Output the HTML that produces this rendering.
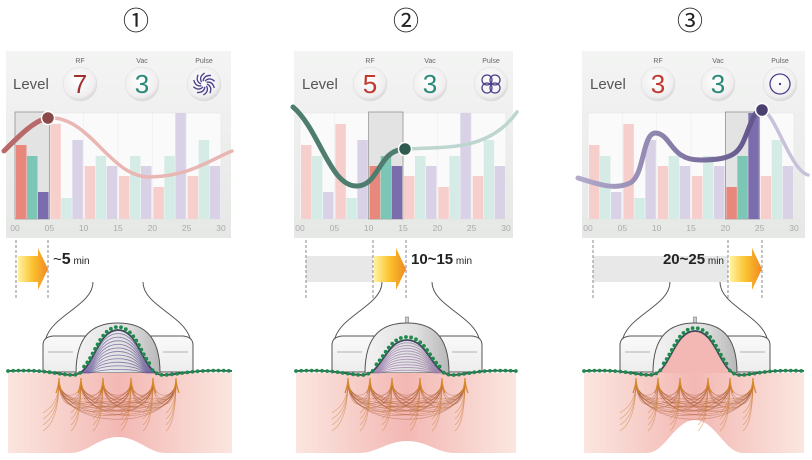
<!DOCTYPE html>
<html><head><meta charset="utf-8">
<style>
html,body{margin:0;padding:0;background:#fff;}
body{width:812px;height:460px;overflow:hidden;position:relative;font-family:"Liberation Sans",sans-serif;}
svg{position:absolute;left:0;top:0;}
</style></head><body>
<svg id="s" width="812" height="460" viewBox="0 0 812 460" xmlns="http://www.w3.org/2000/svg">
<defs>
<linearGradient id="pan" x1="0" y1="0" x2="0" y2="1"><stop offset="0" stop-color="#f3f4f3"/><stop offset="1" stop-color="#e6e8e6"/></linearGradient>
<linearGradient id="arr" x1="0" y1="0" x2="1" y2="0"><stop offset="0" stop-color="#fff3a0"/><stop offset="0.5" stop-color="#fbc02d"/><stop offset="1" stop-color="#f08a24"/></linearGradient>
<linearGradient id="skin" x1="0" y1="0" x2="1" y2="0"><stop offset="0" stop-color="#fbe6df"/><stop offset="0.5" stop-color="#f3b8b4"/><stop offset="1" stop-color="#fbe6df"/></linearGradient>
<linearGradient id="dome" x1="0" y1="0" x2="1" y2="0"><stop offset="0" stop-color="#f2f2f2"/><stop offset="0.6" stop-color="#e0e0e0"/><stop offset="1" stop-color="#b8b8b8"/></linearGradient>
<linearGradient id="body" x1="0" y1="0" x2="0" y2="1"><stop offset="0" stop-color="#fafafa"/><stop offset="1" stop-color="#ededed"/></linearGradient>
<linearGradient id="pcurve" x1="578" y1="0" x2="762" y2="0" gradientUnits="userSpaceOnUse"><stop offset="0" stop-color="#b3aacb"/><stop offset="1" stop-color="#5e5288"/></linearGradient>
<radialGradient id="btn" cx="0.45" cy="0.4" r="0.6"><stop offset="0" stop-color="#fff"/><stop offset="0.8" stop-color="#f0eeee"/><stop offset="1" stop-color="#d8d6d6"/></radialGradient>
</defs>
<g id="g"></g>
<g font-family="Liberation Sans, sans-serif">
<text x="136" y="30" font-size="26" text-anchor="middle" fill="#222" font-family="Noto Sans CJK JP, sans-serif">①</text>
<text x="406" y="30" font-size="26" text-anchor="middle" fill="#222" font-family="Noto Sans CJK JP, sans-serif">②</text>
<text x="690" y="30" font-size="26" text-anchor="middle" fill="#222" font-family="Noto Sans CJK JP, sans-serif">③</text>

<text x="13" y="89" font-size="15" fill="#555">Level</text>
<text x="80" y="63" font-size="7" fill="#666" text-anchor="middle">RF</text>
<text x="142" y="63" font-size="7" fill="#666" text-anchor="middle">Vac</text>
<text x="204" y="63" font-size="7" fill="#666" text-anchor="middle">Pulse</text>
<text x="302" y="89" font-size="15" fill="#555">Level</text>
<text x="370" y="63" font-size="7" fill="#666" text-anchor="middle">RF</text>
<text x="430" y="63" font-size="7" fill="#666" text-anchor="middle">Vac</text>
<text x="491" y="63" font-size="7" fill="#666" text-anchor="middle">Pulse</text>
<text x="590" y="89" font-size="15" fill="#555">Level</text>
<text x="658" y="63" font-size="7" fill="#666" text-anchor="middle">RF</text>
<text x="718" y="63" font-size="7" fill="#666" text-anchor="middle">Vac</text>
<text x="780" y="63" font-size="7" fill="#666" text-anchor="middle">Pulse</text>

<text x="80" y="93" font-size="26" fill="#a03030" text-anchor="middle">7</text>
<text x="142" y="93" font-size="26" fill="#2a8a78" text-anchor="middle">3</text>
<text x="370" y="93" font-size="26" fill="#c03a30" text-anchor="middle">5</text>
<text x="430" y="93" font-size="26" fill="#2a8a78" text-anchor="middle">3</text>
<text x="658" y="93" font-size="26" fill="#c03a30" text-anchor="middle">3</text>
<text x="718" y="93" font-size="26" fill="#2a8a78" text-anchor="middle">3</text>

<text x="53" y="264" font-size="10" fill="#222"><tspan font-size="15">~</tspan><tspan font-size="16" font-weight="bold">5</tspan> min</text>
<text x="411" y="264" font-size="10" fill="#222"><tspan font-size="15" font-weight="bold">10~15</tspan> min</text>
<text x="724" y="264" font-size="10" fill="#222" text-anchor="end"><tspan font-size="15" font-weight="bold">20~25</tspan> min</text>
</g>
</svg>
<script>
const NS="http://www.w3.org/2000/svg",G=document.getElementById('g');
function el(t,a,p){const e=document.createElementNS(NS,t);for(const k in a)e.setAttribute(k,a[k]);(p||G).appendChild(e);return e;}
const panels=[
 {bx:6,bw:225,x0:15,act:0,btn:[80,142,204],
  curve:"M4,151 C20,135 35,120 48,118 C90,115 110,178 150,177 C190,176 210,160 232,151",
  bold:"M4,151 C20,135 35,120 48,118",dot:[48,118],col:"#e9b6b3",bcol:"#b86a6a",dcol:"#8a4848"},
 {bx:294,bw:219,x0:300,act:2,btn:[370,430,491],
  curve:"M293,107 C320,130 330,188 358,186 C380,184 378,150 405,149 C450,147 490,150 517,112",
  bold:"M293,107 C320,130 330,188 358,186 C380,184 378,150 405,149",dot:[405,149],col:"#bdd6cf",bcol:"#4e7d70",dcol:"#2f5a50"},
 {bx:582,bw:223,x0:588,act:4,btn:[658,718,780],
  curve:"M578,178 C600,185 615,190 630,183 C645,175 642,132 656,133 C672,135 670,160 700,160 C740,160 740,150 750,125 C755,112 758,110 762,110 C775,112 790,170 808,175",
  bold:"M578,178 C600,185 615,190 630,183 C645,175 642,132 656,133 C672,135 670,160 700,160 C740,160 740,150 750,125 C755,112 758,110 762,110",dot:[762,110],col:"#c8c1da",bcol:"url(#pcurve)",dcol:"#4a3f6e"}
];
const H=[[145,156,192],[124,198,140],[166,156,166],[176,156,166],[187,156,113],[176,140,166]];
const cols=["#f6cfcc","#d5ece6","#d9d2e6"],colsA=["#e8877b","#7cc6b6","#7b6cae"];
panels.forEach((p,pi)=>{
 el('rect',{x:p.bx,y:51,width:p.bw,height:187,fill:"url(#pan)"});
 const w=206/6;
 el('rect',{x:p.x0,y:113,width:206,height:106,fill:"#fafafa",stroke:"#e4e4e4","stroke-width":0.6});
 for(let i=1;i<6;i++)el('line',{x1:p.x0+i*w,y1:113,x2:p.x0+i*w,y2:219,stroke:"#ececec","stroke-width":0.6});
 el('rect',{x:p.x0+p.act*w,y:112,width:w,height:107,fill:"#e2e3e2",stroke:"#888","stroke-width":0.7});
 for(let s=0;s<6;s++)for(let b=0;b<3;b++){
  const y=H[s][b];const a=(s==p.act);
  el('rect',{x:p.x0+s*w+1+b*11,y:y,width:10.5,height:219-y,fill:a?colsA[b]:cols[b]});
 }
 ["00","05","10","15","20","25","30"].forEach((t,i)=>{const e=el('text',{x:p.x0+i*w,y:231,"font-size":8.5,fill:"#aaa","text-anchor":"middle","font-family":"Liberation Sans"});e.textContent=t;});
 el('path',{d:p.curve,fill:"none",stroke:p.col,"stroke-width":3.5,"stroke-linecap":"round"});
 el('path',{d:p.bold,fill:"none",stroke:p.bcol,"stroke-width":5,"stroke-linecap":"round"});
 el('circle',{cx:p.dot[0],cy:p.dot[1],r:6.5,fill:p.dcol,stroke:"#fff","stroke-width":1.5});
 p.btn.forEach(x=>{el('circle',{cx:x,cy:84,r:17,fill:"url(#btn)",stroke:"#ddd","stroke-width":0.5});});
});
(function(){const cx=204,cy=84;for(let i=0;i<10;i++){const a=i*Math.PI/5;el('path',{d:`M${cx+3*Math.cos(a)},${cy+3*Math.sin(a)} Q${cx+9*Math.cos(a+0.3)},${cy+9*Math.sin(a+0.3)} ${cx+11*Math.cos(a+1)},${cy+11*Math.sin(a+1)}`,fill:"none",stroke:"#4a3f8a","stroke-width":1.3});}
 [[-4,-4],[4,-4],[-4,4],[4,4]].forEach(d=>el('circle',{cx:491+d[0],cy:84+d[1],r:5,fill:"none",stroke:"#4a3f8a","stroke-width":1.3}));
 el('circle',{cx:780,cy:84,r:10,fill:"none",stroke:"#4a3f8a","stroke-width":1.3});el('circle',{cx:780,cy:84,r:1.2,fill:"#4a3f8a"});})();
function dash(x){el('line',{x1:x,y1:240,x2:x,y2:300,stroke:"#888","stroke-width":1,"stroke-dasharray":"3,2"});}
function arrow(x1,x2){el('path',{d:`M${x1},256 L${x2-10},256 L${x2-10},248 L${x2},269 L${x2-10},290 L${x2-10},282 L${x1},282 Z`,fill:"url(#arr)"});}
dash(16);dash(48);arrow(18,48);
el('rect',{x:306,y:256,width:67,height:26,fill:"#e8e8e8"});dash(306);dash(373);dash(406);arrow(374,406);
el('rect',{x:593,y:256,width:135,height:26,fill:"#e8e8e8"});dash(593);dash(728);dash(762);arrow(730,762);
const dev=[{cx:118,sx:8,ex:232,bulge:437,skinUp:false},{cx:407,sx:296,ex:516,bulge:441,skinUp:false},{cx:695,sx:584,ex:804,bulge:420,skinUp:true}];
dev.forEach((d,di)=>{
 const c=d.cx,T=373;
 el('path',{d:`M${c-25},282 C${c-25},305 ${c-65},315 ${c-72},338`,fill:"none",stroke:"#555","stroke-width":1});
 el('path',{d:`M${c+25},282 C${c+25},305 ${c+65},315 ${c+72},338`,fill:"none",stroke:"#555","stroke-width":1});
 el('path',{d:`M${c-75},372 L${c-75},345 Q${c-75},337 ${c-65},336 L${c+65},336 Q${c+75},337 ${c+75},345 L${c+75},372 Z`,fill:"url(#body)",stroke:"#555","stroke-width":1});
 el('line',{x1:c-70,y1:352,x2:c-45,y2:352,stroke:"#999","stroke-width":0.8});
 el('line',{x1:c+45,y1:352,x2:c+70,y2:352,stroke:"#999","stroke-width":0.8});
 if(di>0)el('rect',{x:c-1.5,y:317,width:3,height:7,fill:"#ccc",stroke:"#777","stroke-width":0.6});
 el('path',{d:`M${c-42},${T} C${c-42},335 ${c-25},323 ${c},323 C${c+25},323 ${c+42},335 ${c+42},${T} Z`,fill:"url(#dome)",stroke:"#555","stroke-width":1});
 const b=d.bulge;
 el('path',{d:`M${d.sx},${T} L${d.ex},${T} L${d.ex},453 L${c+48},453 C${c+30},453 ${c+20},${b} ${c},${b} C${c-20},${b} ${c-30},453 ${c-48},453 L${d.sx},453 Z`,fill:"url(#skin)"});
 const top=[330,340,331][di];
 if(d.skinUp){el('path',{d:`M${c-40},${T} C${c-25},${T} ${c-22},${top} ${c},${top} C${c+22},${top} ${c+25},${T} ${c+40},${T} Z`,fill:"#f3b8b4"});}
 else{for(let k=0;k<12;k++){const h=top+k*(T-top)/12;el('path',{d:`M${c-40+k},${T} C${c-25},${T} ${c-22},${h} ${c},${h} C${c+22},${h} ${c+25},${T} ${c+40-k},${T}`,fill:"none",stroke:di==0?"#6a5a9a":"#9a7aa8","stroke-width":0.9,opacity:0.7});}}
 const sp=`M${d.sx},371 C${d.sx+40},369 ${c-60},375 ${c-45},375 C${c-25},375 ${c-22},${top} ${c},${top} C${c+22},${top} ${c+25},375 ${c+45},375 C${c+60},375 ${d.ex-40},369 ${d.ex},371`;
 el('path',{d:sp,fill:"none",stroke:"#3c4a5a","stroke-width":1.8});
 const pth=el('path',{d:sp,fill:"none"});const L=pth.getTotalLength();
 for(let s=0;s<L;s+=5.2){const q=pth.getPointAtLength(s);let dy=0;if(q.x>c-40&&q.x<c+40&&q.y<370){dy=-3;}el('circle',{cx:q.x,cy:q.y+dy,r:1.9,fill:"#1f8a4c"});}
 const xs=[-59,-37,-15,13,35,58].map(o=>c+o),ty=381;
 for(let i=0;i<6;i++)for(let j=i+1;j<6;j++){for(let k=0;k<3;k++){const dep=ty+14+(j-i)*5+k*6;el('path',{d:`M${xs[i]},${ty} C${xs[i]},${dep} ${xs[j]},${dep} ${xs[j]},${ty}`,fill:"none",stroke:"#a8562a","stroke-width":0.7,opacity:0.45});}}
 xs.forEach((x,i)=>{for(let k=0;k<4;k++){el('path',{d:`M${x},${ty} C${x},${ty+25+k*6} ${x-(i==0?14:8)},${ty+30+k*6} ${x-(i==0?16:10)},${ty+32+k*6}`,fill:"none",stroke:"#c87a30","stroke-width":0.7,opacity:0.5});}
  el('path',{d:`M${x-3},${ty+12} Q${x},${ty+4} ${x},${ty-3} Q${x},${ty+4} ${x+3},${ty+12}`,fill:"none",stroke:"#d8882a","stroke-width":1.3});});
});
</script>
</body></html>
